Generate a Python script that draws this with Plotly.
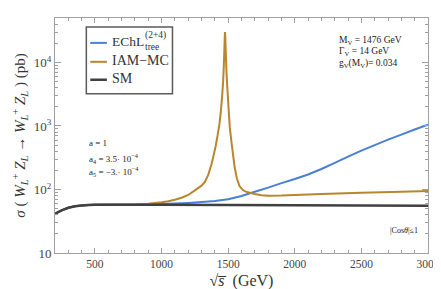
import plotly.graph_objects as go

# ---- data ----
sm_x = [200, 220, 250, 300, 350, 400, 450, 500, 600, 800, 1000, 1500, 2000, 2500, 3000]
sm_y = [41, 43.5, 47, 51.5, 54.5, 56, 57, 57.5, 57.6, 57.5, 57.3, 57, 56.5, 56, 55.5]

echl_x = [200, 220, 250, 300, 350, 400, 450, 500, 600, 800, 1000, 1100, 1200, 1300, 1400,
          1500, 1600, 1700, 1800, 1900, 2000, 2100, 2200, 2300, 2400, 2500, 2600, 2700,
          2800, 2900, 3000]
echl_y = [41, 43.5, 47, 51.5, 54.5, 56, 57, 57.5, 57.8, 58.2, 59, 60, 61.5, 63.5, 66,
          70, 79, 92, 107, 126, 146, 172, 210, 262, 330, 410, 500, 610, 730, 880, 1050]

iam_x = [200, 220, 250, 300, 350, 400, 450, 500, 600, 800, 900, 1000, 1050, 1100, 1150,
         1200, 1250, 1300, 1325, 1350, 1375, 1390, 1405, 1420, 1435, 1445, 1455, 1462,
         1467, 1471, 1474, 1476, 1478, 1481, 1484, 1488, 1492, 1496, 1503, 1512, 1525,
         1540, 1550, 1565, 1585, 1610, 1640, 1670, 1700, 1750, 1800, 1900, 2000, 2200,
         2500, 2800, 3000]
iam_y = [41, 43.5, 47, 51.5, 54.5, 56, 57, 57.5, 57.7, 58, 59.5, 63, 65.5, 69, 74,
         82, 97, 115, 132, 170, 250, 340, 470, 700, 1100, 1700, 3000, 5000,
         8500, 15000, 24000, 30000, 26000, 17000, 11000, 6500, 4500, 3300, 1900, 950, 550,
         310, 215, 150, 113, 98, 91, 88, 85, 81, 80, 80.5, 82, 85, 89, 92.5, 95]

series_names = ["EChL", "IAM−MC", "SM"]
echl_sup = "(2+4)"
echl_sub = "tree"

x_ticks = [500, 1000, 1500, 2000, 2500, 3000]
y_tickvals = [10, 100, 1000, 10000]
y_ticktext = ["10", "10<sup>2</sup>", "10<sup>3</sup>", "10<sup>4</sup>"]
y_minor = [m * 10 ** e for e in range(1, 5) for m in range(2, 10)]

blue = "#4A7FD9"
gold = "#B8862E"
dark = "#404040"
axis_col = "#A0A0A0"
txt_col = "#444444"
serif = "Liberation Serif, Times New Roman, serif"

fig = go.Figure()
fig.add_trace(go.Scatter(x=echl_x, y=echl_y, mode="lines",
                         line=dict(color=blue, width=2, simplify=False),
                         name="EChL<sub>tree</sub><sup>(2+4)</sup>", showlegend=False))
fig.add_trace(go.Scatter(x=iam_x, y=iam_y, mode="lines",
                         line=dict(color=gold, width=2, simplify=False),
                         name=series_names[1], showlegend=False))
fig.add_trace(go.Scatter(x=sm_x, y=sm_y, mode="lines",
                         line=dict(color=dark, width=2.5, simplify=False),
                         name=series_names[2], showlegend=False))

fig.update_layout(
    width=441, height=289,
    margin=dict(l=47, r=13, t=9, b=44),
    paper_bgcolor="white", plot_bgcolor="white",
    font=dict(family=serif, color=txt_col, size=12),
    showlegend=False,
)

fig.update_xaxes(
    range=[200, 3000], tickvals=x_ticks, ticks="inside", ticklen=5,
    tickcolor=axis_col, showline=True, linecolor=axis_col, linewidth=1,
    mirror="ticks", showgrid=False, zeroline=False, ticklabeloverflow="allow",
    tickfont=dict(family=serif, size=11.5, color=txt_col),
    minor=dict(dtick=100, tick0=0, ticks="inside", ticklen=3, tickcolor=axis_col, showgrid=False),
    title=dict(text="√<i>s̅</i>  (GeV)",
               font=dict(family=serif, size=16, color="#333333"), standoff=6),
)
fig.update_yaxes(
    type="log", range=[1, 4.7], tickvals=y_tickvals, ticktext=y_ticktext,
    ticks="inside", ticklen=6, tickcolor=axis_col,
    showline=True, linecolor=axis_col, linewidth=1, mirror="ticks",
    showgrid=False, zeroline=False,
    tickfont=dict(family=serif, size=13, color=txt_col),
    minor=dict(tickvals=y_minor, ticks="inside", ticklen=3, tickcolor=axis_col, showgrid=False),
    title=dict(text="<i>σ</i> ( <i>W</i><sub><i>L</i></sub><sup>+</sup> <i>Z</i><sub><i>L</i></sub> → "
                    "<i>W</i><sub><i>L</i></sub><sup>+</sup> <i>Z</i><sub><i>L</i></sub> ) (pb)",
               font=dict(family=serif, size=15, color="#333333"), standoff=4),
)

def px2paper(x, y):
    return (x - 47) / 381.0, (245 - y) / 236.0

# legend box (drawn like the reference's framed legend)
bx0, by1 = px2paper(79, 18)
bx1, by0 = px2paper(167, 85)
fig.add_shape(type="rect", xref="paper", yref="paper", x0=bx0, x1=bx1, y0=by0, y1=by1,
              line=dict(color="#5A5A5A", width=1.5), fillcolor="white", layer="above")
for (yy, col, w, name, fs) in [(34, blue, 2, series_names[0], 13.5),
                               (53, gold, 2, series_names[1], 14),
                               (71, dark, 2.5, series_names[2], 14)]:
    lx0, ly = px2paper(83, yy)
    lx1, _ = px2paper(100, yy)
    fig.add_shape(type="line", xref="paper", yref="paper", x0=lx0, x1=lx1, y0=ly, y1=ly,
                  line=dict(color=col, width=w), layer="above")
    tx, ty = px2paper(103, yy - 1)
    fig.add_annotation(x=tx, y=ty, xref="paper", yref="paper", text=name,
                       showarrow=False, xanchor="left", yanchor="middle",
                       font=dict(family=serif, size=fs, color="#333333"))
# stacked super/subscript of the EChL entry
for (yy, t) in [(27, echl_sup), (38.5, echl_sub)]:
    tx, ty = px2paper(136.5, yy)
    fig.add_annotation(x=tx, y=ty, xref="paper", yref="paper", text=t,
                       showarrow=False, xanchor="left", yanchor="middle",
                       font=dict(family=serif, size=9.5, color="#333333"))

notes = [
    (335, 32, "M<sub>V</sub> = 1476 GeV", 9.5),
    (335, 43, "Γ<sub>V</sub> = 14 GeV", 9.5),
    (335, 55, "g<sub>V</sub>(M<sub>V</sub>)= 0.034", 9.5),
    (80, 135, "a = 1", 9),
    (80, 150, "a<sub>4</sub> = 3.5· 10<sup>−4</sup>", 9),
    (80, 163, "a<sub>5</sub> = −3.· 10<sup>−4</sup>", 9),
    (387, 222, "|Cos<i>θ</i>|≤1", 8),
]
for x, y, t, s in notes:
    xp, yp = px2paper(x, y)
    fig.add_annotation(x=xp, y=yp, xref="paper", yref="paper", text=t,
                       showarrow=False, xanchor="left", yanchor="middle",
                       font=dict(family=serif, size=s, color="#222222"))

fig.write_html("out.html")
